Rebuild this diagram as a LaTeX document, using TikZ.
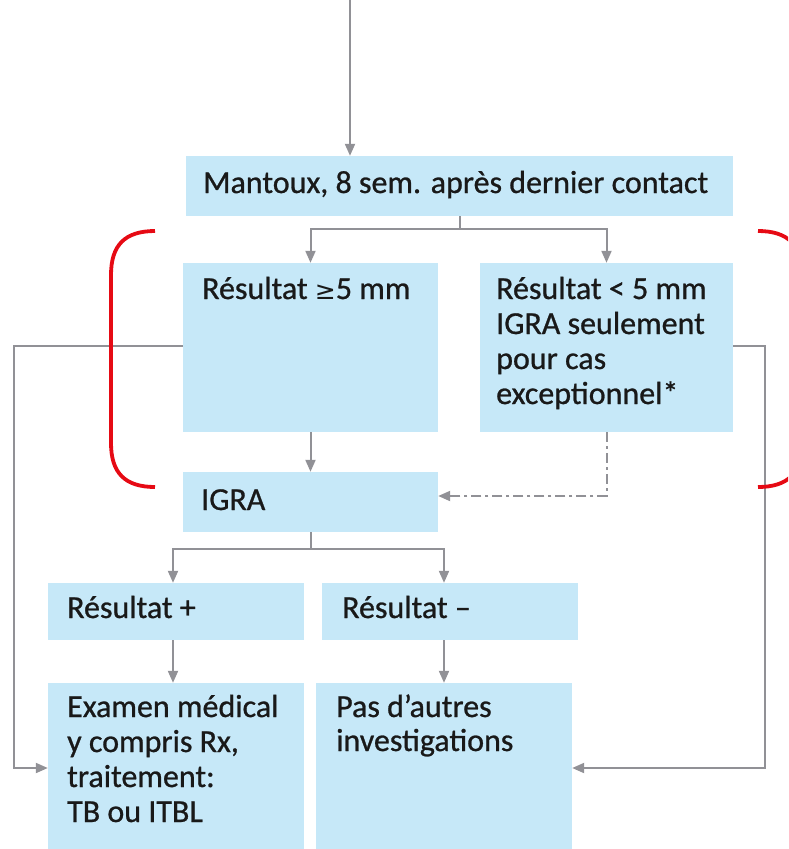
\documentclass[tikz,border=0pt]{standalone}
\usepackage{fontspec}
\setmainfont{Carlito}[FakeBold=0.8]
\newfontfamily\symf{DejaVu Sans}
\usetikzlibrary{arrows.meta,calc}
\definecolor{boxblue}{RGB}{198,232,248}
\definecolor{linegray}{RGB}{145,145,150}
\definecolor{bracketred}{RGB}{230,10,20}
\begin{document}
\begin{tikzpicture}[x=1pt,y=-1pt,
  box/.style={fill=boxblue, draw=none, inner sep=0pt},
  txt/.style={anchor=base west, inner sep=0pt, font=\fontsize{32}{35}\selectfont, text=black!90},
  conn/.style={draw=linegray, line width=2pt},
  arr/.style={conn, -{Triangle[length=12pt,width=10pt]}},
  dashdot/.style={arr, dash pattern=on 10pt off 4pt on 3pt off 4pt},
  brack/.style={draw=bracketred, line width=3.8pt}]
\useasboundingbox (0,0) rectangle (788,849);
\clip (0,0) rectangle (788,849);
% boxes
\node[box, minimum width=547pt, minimum height=60pt] (mant) at (459.5,186) {};
\node[box, minimum width=255pt, minimum height=169pt] (r1) at (310.5,347.5) {};
\node[box, minimum width=253pt, minimum height=169pt] (r2) at (606.5,347.5) {};
\node[box, minimum width=255pt, minimum height=60pt] (igra) at (310.5,502) {};
\node[box, minimum width=256pt, minimum height=57pt] (rp) at (176,611.5) {};
\node[box, minimum width=256pt, minimum height=57pt] (rm) at (450,611.5) {};
\node[box, minimum width=256pt, minimum height=166pt] (exam) at (176,766) {};
\node[box, minimum width=256pt, minimum height=166pt] (pas) at (444,766) {};
% texts
\node[txt] (tmant) at (203,193) {Mantoux, 8 sem. après dernier contact};
\node[txt] (tr1) at (202,299) {Résultat {\symf\fontsize{25}{35}\selectfont ≥}5 mm};
\node[txt] (tr2a) at (496,299) {Résultat < 5 mm};
\node[txt] (tr2b) at (496,334) {IGRA seulement};
\node[txt] (tr2c) at (496,369) {pour cas};
\node[txt] (tr2d) at (496,404) {exceptionnel*};
\node[txt] (tigra) at (201,510) {IGRA};
\node[txt] (trp) at (67,618) {Résultat +};
\node[txt] (trm) at (342,618) {Résultat –};
\node[txt] (tex1) at (67,717) {Examen médical};
\node[txt] (tex2) at (67,752) {y compris Rx,};
\node[txt] (tex3) at (67,787) {traitement:};
\node[txt] (tex4) at (67,822) {TB ou ITBL};
\node[txt] (tpas1) at (336,717) {Pas d'autres};
\node[txt] (tpas2) at (336,751) {investigations};
% connectors
\coordinate (top) at (350,0);
\draw[arr] (top) -- (top |- mant.north);
\draw[arr] (mant.south) -- ++(0,13) -| (r1.north);
\draw[arr] (mant.south) -- ++(0,13) -| (r2.north);
\draw[arr] (r1.south) -- (igra.north);
\draw[dashdot] (r2.south) |- ([yshift=6pt]igra.east);
\draw[arr] (igra.south) -- ++(0,17) -| ([xshift=-3pt]rp.north);
\draw[arr] (igra.south) -- ++(0,17) -| ([xshift=-6pt]rm.north);
\draw[arr] ([xshift=-3pt]rp.south) -- ([xshift=-3pt]exam.north);
\draw[arr] ([xshift=-6pt]rm.south) -- (pas.north);
\draw[arr] ([yshift=2pt]r1.west) -- ++(-169,0) |- ([yshift=-2pt]exam.west);
\draw[arr] ([yshift=2pt]r2.east) -- ++(32,0) |- ([yshift=-2pt]pas.east);
% brackets
\draw[brack] (155,231) .. controls (125,231) and (111,245) .. (111,275) -- (111,443) .. controls (111,473) and (125,487) .. (155,487);
\draw[brack] (758,231) .. controls (788,231) and (802,245) .. (802,275) -- (802,443) .. controls (802,473) and (788,487) .. (758,487);
\end{tikzpicture}
\end{document}
